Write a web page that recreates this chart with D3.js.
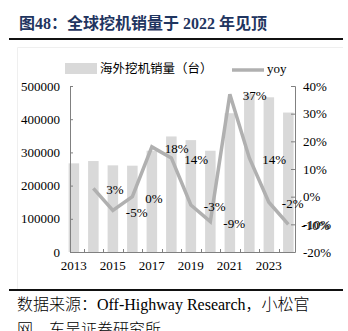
<!DOCTYPE html>
<html><head><meta charset="utf-8">
<script src="https://cdn.jsdelivr.net/npm/d3@7"></script>
<style>
html,body{margin:0;padding:0;background:#fff;}
svg{display:block;}
text{font-family:"Liberation Serif","Noto Sans CJK SC",serif;}
</style></head>
<body>
<script>
const years = [2013,2014,2015,2016,2017,2018,2019,2020,2021,2022,2023,2024];
const sales = [267000,274000,261000,260000,305000,348000,337000,305000,418000,476000,466000,420000];
const yoyYears = [2014,2015,2016,2017,2018,2019,2020,2021,2022,2023,2024];
const yoy = [3,-5,0,18,14,-3,-9,37,14,-2,-10];
const leftTicks = [0,100000,200000,300000,400000,500000];
const rightTicks = [-20,-10,0,10,20,30,40];
const yearLabels = [2013,2015,2017,2019,2021,2023];
const titleText = "图48：全球挖机销量于 2022 年见顶";
const barName = "海外挖机销量（台）";
const lineName = "yoy";
const source1 = "数据来源：Off-Highway Research，小松官";
const source2 = "网，东吴证券研究所";

(function(){
const W = 348, H = 331;
const svg = d3.select("body").append("svg").attr("width", W).attr("height", H);
const axisColor = "#808080";
const barColor = "#d9d9d9";
const lineColor = "#b0b0b0";

// frame
svg.append("path").attr("d","M17.5,290 L17.5,47.5 L343,47.5").attr("fill","none").attr("stroke","#efefef");

// title
svg.append("text").attr("x",19).attr("y",29).attr("font-size",16).attr("font-weight","bold")
  .attr("fill","#1f3560").text(titleText);
svg.append("line").attr("x1",9).attr("x2",343).attr("y1",39).attr("y2",39).attr("stroke","#111").attr("stroke-width",2);

const pL = 70, pR = 295, pT = 86, pB = 252;
const x = d3.scaleBand().domain(years).range([68.6, 293.6]).paddingInner(0.46).paddingOuter(0);
const yL = d3.scaleLinear().domain([0,500000]).range([pB, pT]);
const yR = d3.scaleLinear().domain([-20,40]).range([pB, pT]);

// bars
svg.append("g").selectAll("rect").data(years).join("rect")
  .attr("x", d => x(d)).attr("width", x.bandwidth())
  .attr("y", (d,i) => yL(sales[i])).attr("height", (d,i) => pB - yL(sales[i]))
  .attr("fill", barColor);

// left axis
const gL = svg.append("g").attr("transform",`translate(${pL},0)`)
  .call(d3.axisLeft(yL).tickValues(leftTicks).tickSize(-3).tickPadding(10).tickFormat(d3.format("d")));
gL.select(".domain").attr("stroke",axisColor);
gL.selectAll(".tick line").attr("stroke",axisColor);
gL.selectAll("text").attr("font-size",13).attr("fill","#000").attr("font-family",'"Liberation Serif",serif');

// right axis
const gR = svg.append("g").attr("transform",`translate(${pR},0)`)
  .call(d3.axisRight(yR).tickValues(rightTicks).tickSize(-4).tickPadding(8).tickFormat(d => d + "%"));
gR.select(".domain").attr("stroke",axisColor);
gR.selectAll(".tick line").attr("stroke",axisColor);
gR.selectAll("text").attr("font-size",13).attr("fill","#000").attr("font-family",'"Liberation Serif",serif');

// bottom axis
const step = x.step();
svg.append("line").attr("x1",pL).attr("x2",pR).attr("y1",pB+0.5).attr("y2",pB+0.5).attr("stroke",axisColor);
svg.append("g").selectAll("line").data(years.slice(0,-1)).join("line")
  .attr("x1", d => Math.round(x(d) + x.bandwidth()/2 + step/2) + 0.5)
  .attr("x2", d => Math.round(x(d) + x.bandwidth()/2 + step/2) + 0.5)
  .attr("y1", pB - 3).attr("y2", pB).attr("stroke", axisColor);
svg.append("g").selectAll("text").data(yearLabels).join("text")
  .attr("x", d => x(d) + x.bandwidth()/2).attr("y", 270)
  .attr("text-anchor","middle").attr("font-size",13).text(d => d);

// line
const line = d3.line().x((d,i) => x(yoyYears[i]) + x.bandwidth()/2).y(d => yR(d));
svg.append("path").datum(yoy).attr("d", line).attr("fill","none")
  .attr("stroke", lineColor).attr("stroke-width",3.5);

// data labels
svg.append("g").selectAll("text").data(yoy).join("text")
  .attr("x", (d,i) => x(yoyYears[i]) + x.bandwidth()/2 + 13)
  .attr("y", d => yR(d) + 1.5).attr("dy","0.35em")
  .attr("font-size",13).text(d => d + "%");

// legend
svg.append("rect").attr("x",65).attr("y",63).attr("width",32).attr("height",11).attr("fill",barColor);
svg.append("text").attr("x",100).attr("y",73).attr("font-size",12.5).attr("font-family",'"Noto Sans CJK SC",sans-serif').text(barName);
svg.append("line").attr("x1",232).attr("x2",264).attr("y1",70).attr("y2",70).attr("stroke",lineColor).attr("stroke-width",3.5);
svg.append("text").attr("x",267).attr("y",73).attr("font-size",13).text(lineName);

// source
svg.append("line").attr("x1",9).attr("x2",343).attr("y1",290).attr("y2",290).attr("stroke","#111").attr("stroke-width",2);
svg.append("text").attr("x",17).attr("y",310).attr("font-size",16).attr("font-weight",300).text(source1);
svg.append("text").attr("x",17).attr("y",335).attr("font-size",16).attr("font-weight",300).text(source2);
})();
</script>
</body></html>
